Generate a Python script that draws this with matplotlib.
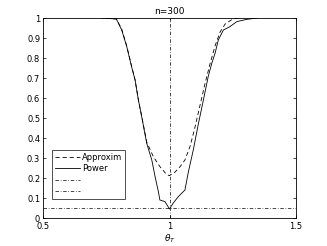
import numpy as np
import matplotlib.pyplot as plt

# values
power_x = [0.73, 0.79, 0.811, 0.831, 0.85, 0.864, 0.877, 0.89, 0.91, 0.93, 0.943, 0.956, 0.962,
           0.982, 1.0, 1.015, 1.035, 1.061, 1.074, 1.094, 1.114, 1.134, 1.153, 1.167, 1.18, 1.193,
           1.213, 1.239, 1.266, 1.305, 1.345]
power_y = [1.0, 0.995, 0.94, 0.857, 0.757, 0.69, 0.59, 0.507, 0.373, 0.29, 0.207, 0.132, 0.09,
           0.082, 0.045, 0.075, 0.107, 0.14, 0.227, 0.34, 0.47, 0.59, 0.707, 0.773, 0.823, 0.89,
           0.94, 0.957, 0.982, 0.993, 1.0]
approx_x = [0.75, 0.79, 0.811, 0.831, 0.85, 0.864, 0.877, 0.89, 0.91, 0.936, 0.962, 0.989, 1.0,
            1.022, 1.042, 1.061, 1.081, 1.1, 1.12, 1.14, 1.16, 1.18, 1.2, 1.22, 1.25, 1.28]
approx_y = [1.0, 0.995, 0.945, 0.86, 0.76, 0.69, 0.59, 0.51, 0.38, 0.307, 0.257, 0.217, 0.212,
            0.23, 0.257, 0.29, 0.357, 0.45, 0.56, 0.67, 0.77, 0.86, 0.93, 0.97, 0.995, 1.0]
alpha_level = 0.05
theta0 = 1.0

fig = plt.figure(figsize=(3.27, 2.46), dpi=100)
ax = fig.add_axes([43/327, 1-218/246, (296-43)/327, (218-18)/246])

ax.plot(approx_x, approx_y, '--', color='k', lw=0.6, dashes=(5, 3.5), label='Approxim')
ax.plot(power_x, power_y, '-', color='k', lw=0.6, label='Power')
ax.plot([0.5, 1.5], [alpha_level, alpha_level], '-.', color='k', lw=0.5, dashes=(5, 2.5, 1, 2.5), label=' ')
ax.plot([theta0, theta0], [0, 1], '-.', color='k', lw=0.5, dashes=(5, 2.5, 1, 2.5), label=' ')

ax.set_xlim(0.5, 1.5)
ax.set_ylim(0, 1)
ax.set_xticks([0.5, 1, 1.5])
ax.set_xticklabels(['0.5', '1', '1.5'])
ax.set_yticks(np.arange(0, 1.01, 0.1))
ax.set_yticklabels(['0'] + ['%.1f' % v for v in np.arange(0.1, 0.95, 0.1)] + ['1'])
ax.tick_params(direction='in', length=2.5, width=0.5, labelsize=6, top=True, right=True, pad=2)
ax.tick_params(axis='x', pad=3)
for s in ax.spines.values():
    s.set_linewidth(0.6)
ax.set_title('n=300', fontsize=6.5, pad=3)
ax.set_xlabel(r'$\theta_T$', fontsize=6.5, labelpad=1)

leg = ax.legend(loc='lower left', bbox_to_anchor=(0.036, 0.095), borderaxespad=0, fontsize=6,
                frameon=True, fancybox=False, handlelength=3.0, borderpad=0.35,
                labelspacing=0.3, handletextpad=0.2)
leg.get_frame().set_edgecolor('k')
leg.get_frame().set_linewidth(0.6)

fig.savefig('out.png', dpi=100)
